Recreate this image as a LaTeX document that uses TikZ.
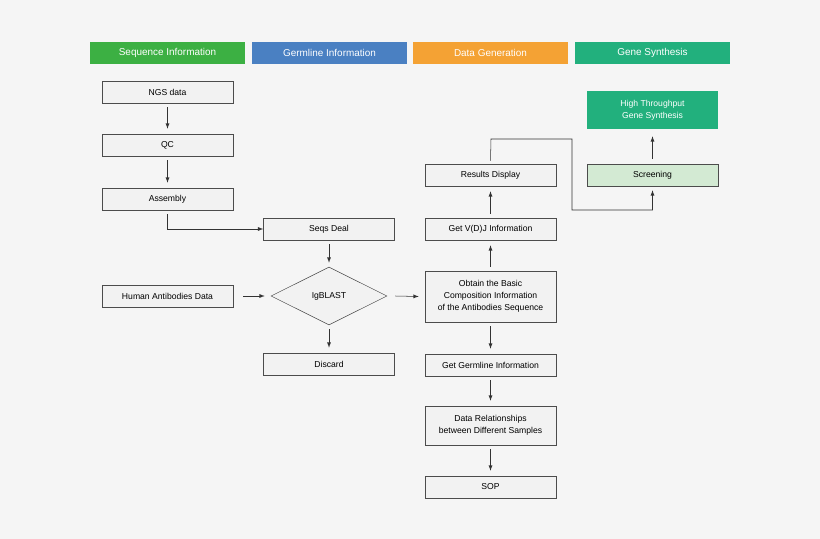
\documentclass[tikz,border=0pt]{standalone}
\usepackage{fontspec}
\setmainfont{Liberation Sans}
\usetikzlibrary{shapes.geometric}
\definecolor{bgc}{HTML}{F5F5F5}
\definecolor{seqc}{HTML}{3CB043}
\definecolor{germc}{HTML}{4A80C2}
\definecolor{datac}{HTML}{F4A234}
\definecolor{genec}{HTML}{22B07D}
\definecolor{scrc}{HTML}{D3EAD3}
\begin{document}
\begin{tikzpicture}
  [x=0.0265cm, y=-0.0265cm,
   hnode/.style={minimum width=155*0.0265cm, minimum height=22*0.0265cm, inner sep=0, text=white, font=\fontsize{7.5}{9}\selectfont},
   bnode/.style={draw=black!70, fill=black!5, minimum width=131*0.0265cm, minimum height=22*0.0265cm, inner sep=0, align=center, font=\fontsize{6.5}{9}\selectfont},
   arr/.style={-latex, black!80, thin}]

  % background
  \fill[bgc] (0,0) rectangle (820,539);

  % headers
  \node[hnode, fill=seqc] (hseq) at (167.5,53) {Sequence Information};
  \node[hnode, fill=germc] (hgerm) at (329.5,53) {Germline Information};
  \node[hnode, fill=datac] (hdata) at (490.5,53) {Data Generation};
  \node[hnode, fill=genec] (hgene) at (652.5,53) {Gene Synthesis};

  % sequence column
  \node[bnode] (ngs) at (167.5,92) {NGS data};
  \node[bnode] (qc) at (167.5,145) {QC};
  \node[bnode] (asm) at (167.5,199) {Assembly};
  \node[bnode] (human) at (167.5,296) {Human Antibodies Data};

  % germline column
  \node[bnode] (seqs) at (329,229) {Seqs Deal};
  \node[diamond, draw=black!70, fill=black!5, minimum width=116*0.0265cm, minimum height=58*0.0265cm,
        inner sep=0, font=\fontsize{6.5}{9}\selectfont] (igb) at (329,296) {IgBLAST};
  \node[bnode] (disc) at (329,364) {Discard};

  % data column
  \node[bnode] (res) at (490.5,175) {Results Display};
  \node[bnode] (vdj) at (490.5,229) {Get V(D)J Information};
  \node[bnode, minimum height=51*0.0265cm] (obt) at (490.5,296.5)
    {Obtain the Basic\\Composition Information\\of the Antibodies Sequence};
  \node[bnode] (germ) at (490.5,365) {Get Germline Information};
  \node[bnode, minimum height=39*0.0265cm] (rel) at (490.5,425.5)
    {Data Relationships\\between Different Samples};
  \node[bnode] (sop) at (490.5,487) {SOP};

  % gene column
  \node[bnode, draw=none, fill=genec, text=white, minimum height=38*0.0265cm] (hts) at (652.5,110)
    {High Throughput\\Gene Synthesis};
  \node[bnode, fill=scrc] (scr) at (652.5,175) {Screening};

  % connectors
  \draw[arr] ([yshift=-4*0.0265cm]ngs.south) -- ([yshift=5*0.0265cm]qc.north);
  \draw[arr] ([yshift=-4*0.0265cm]qc.south) -- ([yshift=5*0.0265cm]asm.north);
  \draw[arr] ([yshift=-4*0.0265cm]asm.south) |- (seqs.west);
  \draw[arr] ([yshift=-4*0.0265cm]seqs.south) -- ([yshift=4*0.0265cm]igb.north);
  \draw[arr] ([xshift=10*0.0265cm]human.east) -- ([xshift=-6*0.0265cm]igb.west);
  \draw[arr] ([yshift=-4*0.0265cm]igb.south) -- ([yshift=5*0.0265cm]disc.north);
  \draw[arr] ([xshift=8*0.0265cm]igb.east) -- ([xshift=-6*0.0265cm]obt.west);
  \draw[arr] ([yshift=4*0.0265cm]obt.north) -- ([yshift=-5*0.0265cm]vdj.south);
  \draw[arr] ([yshift=4*0.0265cm]vdj.north) -- ([yshift=-5*0.0265cm]res.south);
  \draw[arr] ([yshift=-4*0.0265cm]obt.south) -- ([yshift=5*0.0265cm]germ.north);
  \draw[arr] ([yshift=-4*0.0265cm]germ.south) -- ([yshift=5*0.0265cm]rel.north);
  \draw[arr] ([yshift=-4*0.0265cm]rel.south) -- ([yshift=5*0.0265cm]sop.north);
  \draw[arr] ([yshift=3*0.0265cm]res.north) -- (491,139) -- (572,139) -- (572,210) -- (652.5,210)
    -- ([yshift=-4*0.0265cm]scr.south);
  \draw[arr] ([yshift=5*0.0265cm]scr.north) -- ([yshift=-7*0.0265cm]hts.south);
\end{tikzpicture}
\end{document}
